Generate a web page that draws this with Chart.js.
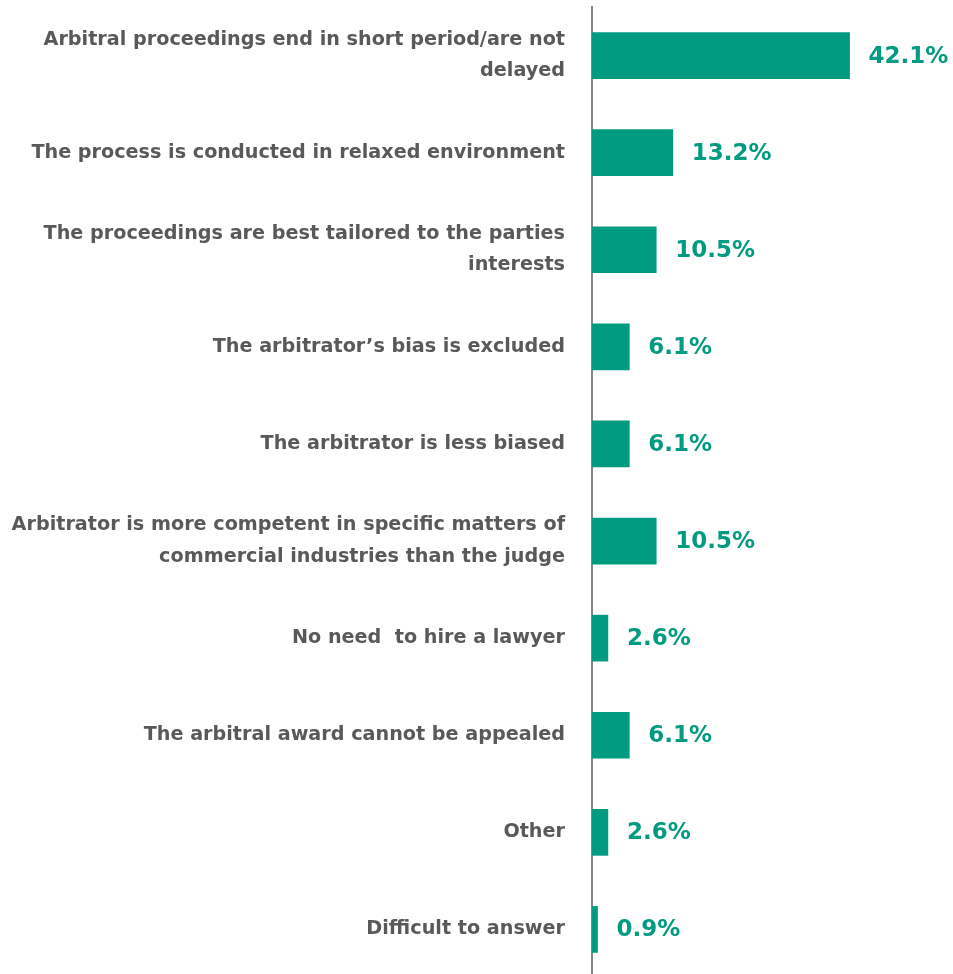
<!DOCTYPE html>
<html lang="en">

<head>
  <meta charset="UTF-8">
  <title>Advantages of arbitration</title>
  <script src="https://cdn.jsdelivr.net/npm/chart.js"></script>
  <style>
    body {
      margin: 0;
      padding: 0;
      background: #fff;
      overflow: hidden;
    }

    /* a few px taller than the window so the axis line runs off the bottom edge */
    .chart-container {
      width: 953px;
      height: 978px;
    }
  </style>
</head>

<body>
  <div class="chart-container">
    <canvas id="reasonsChart"></canvas>
  </div>

  <script>
    const categories = [
      ['Arbitral proceedings end in short period/are not', 'delayed'],
      'The process is conducted in relaxed environment',
      ['The proceedings are best tailored to the parties', 'interests'],
      'The arbitrator\u2019s bias is excluded',
      'The arbitrator is less biased',
      ['Arbitrator is more competent in specific matters of', 'commercial industries than the judge'],
      'No need  to hire a lawyer',
      'The arbitral award cannot be appealed',
      'Other',
      'Difficult to answer'
    ];
    const shares = [42.1, 13.2, 10.5, 6.1, 6.1, 10.5, 2.6, 6.1, 2.6, 0.9];

    const barColor = '#009b80';

    // percentage next to the end of each bar
    const valueLabels = {
      id: 'valueLabels',
      afterDatasetsDraw(chart) {
        const ctx = chart.ctx;
        const meta = chart.getDatasetMeta(0);
        ctx.save();
        ctx.font = 'bold 23px "DejaVu Sans"';
        ctx.fillStyle = barColor;
        ctx.textAlign = 'left';
        ctx.textBaseline = 'middle';
        meta.data.forEach((bar, i) => {
          ctx.fillText(shares[i].toFixed(1) + '%', bar.x + 19, bar.y + 1);
        });
        ctx.restore();
      }
    };

    const ctx = document.getElementById('reasonsChart').getContext('2d');
    new Chart(ctx, {
      type: 'bar',
      data: {
        labels: categories,
        datasets: [{
          data: shares,
          backgroundColor: barColor,
          borderWidth: 0,
          barThickness: 46
        }]
      },
      options: {
        indexAxis: 'y',
        responsive: true,
        maintainAspectRatio: false,
        animation: false,
        layout: { padding: { top: 7, right: 0, bottom: 0, left: 0 } },
        scales: {
          x: {
            display: false,
            min: 0,
            max: 59
          },
          y: {
            afterFit(axis) {
              // fixed label column, and no extra room above/below the bars
              axis.width = 592;
              axis.paddingTop = 0;
              axis.paddingBottom = 0;
            },
            grid: { display: false, drawTicks: false },
            border: { display: true, color: '#888888', width: 2 },
            ticks: {
              padding: 27,
              color: '#595959',
              font: { family: 'DejaVu Sans', size: 19.2, weight: 'bold', lineHeight: 1.63 }
            }
          }
        },
        plugins: {
          legend: { display: false },
          tooltip: { enabled: false }
        }
      },
      plugins: [valueLabels]
    });
  </script>
</body>

</html>
